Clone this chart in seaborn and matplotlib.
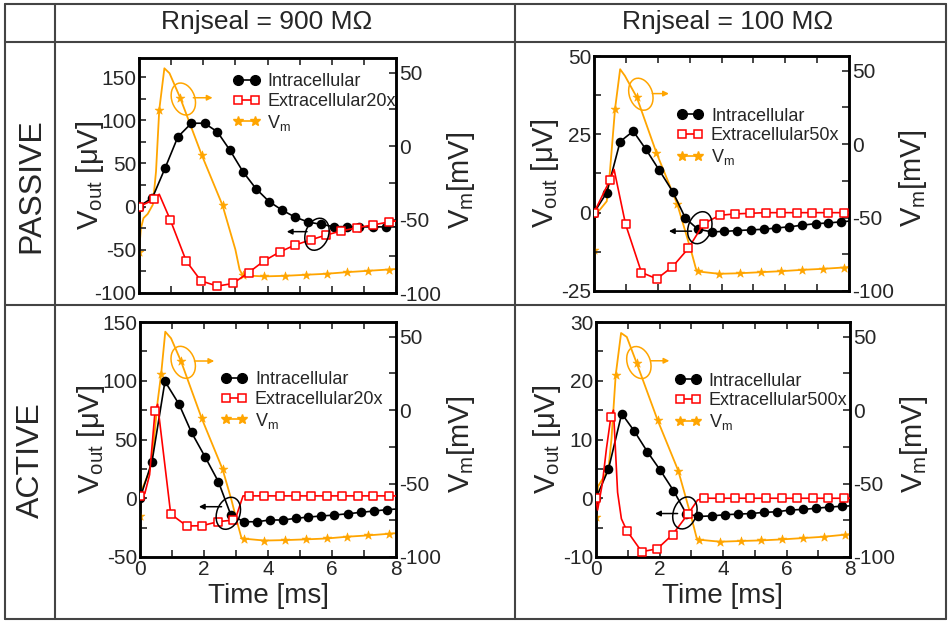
import pandas as pd
import matplotlib
matplotlib.use('Agg')
import matplotlib.pyplot as plt
import matplotlib.transforms as mtransforms
from matplotlib.patches import Ellipse
from matplotlib.lines import Line2D
from matplotlib.ticker import MultipleLocator
import seaborn as sns

# ---- data (time in ms) ----
# PASSIVE, Rnjseal = 900 MOhm
pas900_int_t = [0, 0.42, 0.81, 1.21, 1.63, 2.04, 2.44, 2.83, 3.24, 3.64, 4.05, 4.46, 4.85, 5.26, 5.66, 6.06, 6.47, 6.86, 7.27, 7.68]
pas900_int_v = [0, 10.4, 44.4, 80.7, 96.5, 96.5, 86.5, 65.3, 40.2, 20.8, 5.8, -4.2, -12, -17.8, -20.5, -23.2, -23.2, -23.5, -23.5, -23.5]
pas900_int_extra = [(8.0, -23.5)]
pas900_ext_t = [0, 0.48, 0.97, 1.47, 1.93, 2.44, 2.92, 3.41, 3.89, 4.38, 4.86, 5.34, 5.83, 6.30, 6.80, 7.29, 7.77]
pas900_ext_v = [0, 8.3, -15, -63, -86, -92, -89, -76.4, -62.9, -52.5, -44.4, -38.6, -32.8, -28.2, -24.3, -21.2, -17.8]
pas900_ext_extra = [(0.63, 14.3), (8.0, -16.6)]
pas900_vm_t = [0, 0.63, 1.28, 1.95, 2.60, 3.23, 3.90, 4.55, 5.19, 5.84, 6.48, 7.13, 7.77]
pas900_vm_v = [-72, 24.6, 33, -5.9, -40.3, -88, -88.7, -88.3, -87.6, -86.9, -85.8, -84.9, -84]
pas900_vm_extra = [(0.06, -56), (0.14, -49), (0.27, -46.2), (0.43, -39.9), (0.53, -17.2),
                   (0.79, 53), (0.95, 49.6), (3.0, -70.4), (3.13, -84), (8.0, -83.7)]

# PASSIVE, Rnjseal = 100 MOhm
pas100_int_t = [0, 0.40, 0.82, 1.23, 1.63, 2.05, 2.47, 2.87, 3.26, 3.69, 4.08, 4.50, 4.91, 5.32, 5.72, 6.13, 6.54, 6.95, 7.35, 7.76]
pas100_int_v = [0, 6.4, 22.7, 26.0, 20.2, 13.5, 6.7, -1.8, -5.3, -6.1, -6.0, -5.7, -5.5, -5.3, -4.9, -4.5, -4.0, -3.5, -3.3, -2.9]
pas100_int_extra = [(8.0, -2.7)]
pas100_ext_t = [0, 0.50, 0.99, 1.49, 1.97, 2.46, 2.96, 3.44, 3.94, 4.42, 4.90, 5.39, 5.87, 6.36, 6.85, 7.34, 7.83]
pas100_ext_v = [0, 10.4, -3.7, -19.1, -21.1, -17.3, -11.4, -3.5, -0.85, -0.4, -0.2, 0, 0, 0, 0, 0, 0]
pas100_ext_extra = [(0.63, 13.8), (8.0, 0)]
pas100_vm_t = [0, 0.66, 1.34, 1.96, 2.61, 3.26, 3.93, 4.58, 5.23, 5.88, 6.53, 7.19, 7.83]
pas100_vm_v = [-72, 24, 32, -6, -40.7, -86.7, -88.3, -87.9, -87.2, -86.5, -85.6, -84.9, -84.0]
pas100_vm_extra = [(0.03, -48), (0.19, -44.5), (0.40, -38.9), (0.50, -18.7), (0.82, 51),
                   (0.97, 46.5), (3.06, -73.7), (3.20, -85), (8.0, -83.7)]

# ACTIVE, Rnjseal = 900 MOhm
act900_int_t = [0, 0.375, 0.78, 1.22, 1.61, 2.03, 2.45, 2.84, 3.25, 3.65, 4.06, 4.46, 4.87, 5.26, 5.67, 6.07, 6.49, 6.90, 7.30, 7.71]
act900_int_v = [0, 31.1, 99.5, 80, 56, 35.4, 14.1, -14.3, -20, -20, -18.5, -18.5, -17.1, -16, -15.1, -14.3, -13.2, -12, -10.9, -9.7]
act900_int_extra = [(8.0, -9.2)]
act900_ext_t = [0, 0.47, 0.96, 1.46, 1.93, 2.43, 2.92, 3.41, 3.89, 4.38, 4.86, 5.34, 5.83, 6.32, 6.80, 7.29, 7.78]
act900_ext_v = [2, 74.3, -13.4, -23.6, -23.4, -20, -18.5, 2, 2, 2, 2, 2, 2, 2, 2, 2, 2]
act900_ext_extra = [(0.15, 4), (0.3, 20), (0.55, 80), (3.0, -16), (3.22, 2), (8.0, 2)]
act900_vm_t = [0, 0.66, 1.28, 1.93, 2.58, 3.24, 3.89, 4.53, 5.18, 5.83, 6.47, 7.12, 7.77]
act900_vm_v = [-72, 24.3, 33.4, -5.7, -40.2, -87.5, -88.8, -88.5, -88, -87.4, -86.2, -85.3, -84.2]
act900_vm_extra = [(0.08, -53), (0.29, -42), (0.40, -28.4), (0.55, 5.7), (0.79, 53.4),
                   (0.97, 48.9), (2.86, -61.3), (3.02, -75), (3.17, -87), (8.0, -83.8)]

# ACTIVE, Rnjseal = 100 MOhm
act100_int_t = [0, 0.39, 0.81, 1.21, 1.62, 2.02, 2.44, 2.84, 3.22, 3.66, 4.06, 4.48, 4.88, 5.30, 5.70, 6.12, 6.52, 6.94, 7.35, 7.76]
act100_int_v = [0, 4.9, 14.4, 11.4, 7.9, 4.8, 1.3, -2.6, -3.1, -3.0, -2.8, -2.7, -2.6, -2.4, -2.3, -2.0, -1.9, -1.7, -1.5, -1.35]
act100_int_extra = [(8.0, -1.3)]
act100_ext_t = [0, 0.47, 0.97, 1.44, 1.93, 2.41, 2.91, 3.41, 3.90, 4.38, 4.86, 5.35, 5.85, 6.33, 6.82, 7.32, 7.82]
act100_ext_v = [0, 13.9, -5.5, -9.1, -8.6, -6.2, -2.6, 0, 0, 0, 0, 0, 0, 0, 0, 0, 0]
act100_ext_extra = [(0.05, -2), (0.2, 2.5), (0.33, 8.5), (0.55, 15), (0.68, 1.0), (0.8, -3.5), (3.2, -0.3), (8.0, 0)]
act100_vm_t = [0, 0.62, 1.28, 1.94, 2.59, 3.24, 3.91, 4.56, 5.21, 5.87, 6.53, 7.18, 7.84]
act100_vm_v = [-73, 23.8, 32.1, -6.8, -41.2, -88.2, -89.6, -89.1, -88.7, -88, -87.1, -86.2, -84.8]
act100_vm_extra = [(0.06, -52), (0.23, -46), (0.39, -40.7), (0.49, -19), (0.79, 52.5),
                   (0.97, 49.8), (3.01, -73.5), (3.17, -87), (8.0, -84.5)]

col_titles = ['Rnjseal = 900 MΩ', 'Rnjseal = 100 MΩ']
row_titles = ['PASSIVE', 'ACTIVE']
ext_labels = ['Extracellular20x', 'Extracellular50x', 'Extracellular20x', 'Extracellular500x']
left_ylims = [(-100, 172), (-25, 50), (-50, 150), (-10, 30)]
left_major = [50, 25, 50, 10]

ORANGE = '#FFA500'
RED = '#FF0000'

sns.set_style('ticks')
plt.rcParams['font.family'] = ['Liberation Sans', 'DejaVu Sans']
plt.rcParams['axes.unicode_minus'] = False
plt.rcParams['mathtext.default'] = 'regular'

W, H = 950, 622
fig = plt.figure(figsize=(9.5, 6.22), dpi=100)

# axes boxes in pixels: left, top, right, bottom
boxes = [(139, 58, 396, 293), (594, 56, 849, 291), (140, 322, 396, 557), (596, 322, 850, 557)]
legend_pos = [(0.366, 0.935), (0.324, 0.78), (0.315, 0.79), (0.308, 0.785)]
# annotation: orange ellipse centre, arrow (start,end), black ellipse centre, arrow
notes = [
    dict(o=(1.38, 124.5), oa=((1.69, 126), (2.29, 126)), b=(5.54, -32), ba=((5.23, -29), (4.6, -29))),
    dict(o=(1.47, 37.8), oa=((1.83, 38), (2.35, 38)), b=(3.32, -4.8), ba=((3.06, -5.9), (2.35, -5.9))),
    dict(o=(1.35, 115.7), oa=((1.70, 116.8), (2.32, 116.8)), b=(2.76, -12.8), ba=((2.55, -7.2), (1.84, -7.2))),
    dict(o=(1.35, 23.1), oa=((1.73, 23.4), (2.31, 23.4)), b=(2.8, -2.5), ba=((2.57, -2.6), (1.86, -2.6))),
]

panels = [
    (pas900_int_t, pas900_int_v, pas900_int_extra, pas900_ext_t, pas900_ext_v, pas900_ext_extra, pas900_vm_t, pas900_vm_v, pas900_vm_extra),
    (pas100_int_t, pas100_int_v, pas100_int_extra, pas100_ext_t, pas100_ext_v, pas100_ext_extra, pas100_vm_t, pas100_vm_v, pas100_vm_extra),
    (act900_int_t, act900_int_v, act900_int_extra, act900_ext_t, act900_ext_v, act900_ext_extra, act900_vm_t, act900_vm_v, act900_vm_extra),
    (act100_int_t, act100_int_v, act100_int_extra, act100_ext_t, act100_ext_v, act100_ext_extra, act100_vm_t, act100_vm_v, act100_vm_extra),
]


def curve(t, v, extra):
    pts = sorted(list(zip(t, v)) + list(extra))
    return pd.DataFrame(pts, columns=['t', 'v'])


def ellipse(ax, centre, color, angle):
    tr = fig.dpi_scale_trans + mtransforms.ScaledTranslation(centre[0], centre[1], ax.transData)
    ax.add_patch(Ellipse((0, 0), 0.23, 0.33, angle=angle, transform=tr, fill=False,
                         ec=color, lw=1.1, zorder=6))


for i, (it, iv, ie, et, ev, ee, mt, mv, me) in enumerate(panels):
    l, t, r, b = boxes[i]
    ax = fig.add_axes([l / W, 1 - b / H, (r - l) / W, (b - t) / H])
    ax2 = ax.twinx()
    ax.set_zorder(ax2.get_zorder() + 1)
    ax.patch.set_visible(False)

    # Vm on right axis
    sns.lineplot(data=curve(mt, mv, me), x='t', y='v', ax=ax2, color=ORANGE, lw=1.3,
                 estimator=None, sort=False)
    sns.scatterplot(x=mt, y=mv, ax=ax2, marker='*', s=45, color=ORANGE, edgecolor=ORANGE,
                    linewidth=0.4, zorder=3)
    # intracellular / extracellular on left axis
    sns.lineplot(data=curve(it, iv, ie), x='t', y='v', ax=ax, color='black', lw=1.2,
                 estimator=None, sort=False, zorder=2)
    sns.scatterplot(x=it, y=iv, ax=ax, marker='o', s=48, color='black', edgecolor='black',
                    linewidth=0, zorder=3)
    sns.lineplot(data=curve(et, ev, ee), x='t', y='v', ax=ax, color=RED, lw=1.2,
                 estimator=None, sort=False, zorder=4)
    sns.scatterplot(x=et, y=ev, ax=ax, marker='s', s=30, color='white', edgecolor=RED,
                    linewidth=1.1, zorder=5)

    ax.set_xlim(0, 8)
    ax.set_ylim(*left_ylims[i])
    ax2.set_ylim(-100, 60)
    ax.xaxis.set_major_locator(MultipleLocator(2))
    ax.xaxis.set_minor_locator(MultipleLocator(1))
    ax.yaxis.set_major_locator(MultipleLocator(left_major[i]))
    ax.yaxis.set_minor_locator(MultipleLocator(left_major[i] / 2))
    ax2.yaxis.set_major_locator(MultipleLocator(50))
    ax2.yaxis.set_minor_locator(MultipleLocator(25))
    ax.tick_params(axis='both', which='both', direction='in', length=5, width=1.2,
                   labelsize=15, pad=2, top=True, right=False)
    ax2.tick_params(axis='y', which='both', direction='in', length=5, width=1.2,
                    labelsize=15, pad=2)
    for a in (ax, ax2):
        for s in a.spines.values():
            s.set_linewidth(1.8)
            s.set_color('black')

    ax.set_ylabel('V$_{out}$ [μV]', fontsize=21)
    ax.yaxis.set_label_coords(-0.128, 0.5)
    ax2.set_ylabel('V$_m$[mV]', fontsize=21)
    ax2.yaxis.set_label_coords(1.19, 0.48)
    if i >= 2:
        ax.set_xlabel('Time [ms]', fontsize=20)
        ax.xaxis.set_label_coords(0.5, -0.11)
    else:
        ax.set_xlabel('')
        ax.tick_params(axis='x', labelbottom=False)

    handles = [Line2D([], [], color='black', marker='o', ms=7, lw=1.2),
               Line2D([], [], color=RED, marker='s', ms=5.5, mfc='white', mec=RED, mew=1.1, lw=1.2),
               Line2D([], [], color=ORANGE, marker='*', ms=7, lw=1.2)]
    ax.legend(handles, ['Intracellular', ext_labels[i], 'V$_m$'], loc='upper left',
              bbox_to_anchor=legend_pos[i], frameon=False, numpoints=2, handlelength=1.5,
              handletextpad=0.4, labelspacing=0.15, borderpad=0, borderaxespad=0, fontsize=13)

    n = notes[i]
    ellipse(ax, n['o'], ORANGE, 20)
    ellipse(ax, n['b'], 'black', -20)
    ax.annotate('', xy=n['oa'][1], xytext=n['oa'][0],
                arrowprops=dict(arrowstyle='-|>', color=ORANGE, lw=1.1, mutation_scale=8,
                                shrinkA=0, shrinkB=0))
    ax.annotate('', xy=n['ba'][1], xytext=n['ba'][0],
                arrowprops=dict(arrowstyle='-|>', color='black', lw=1.1, mutation_scale=8,
                                shrinkA=0, shrinkB=0))

# table grid
grid_kw = dict(color='#444444', lw=1.5)
for y in (4, 42, 305, 619):
    fig.add_artist(Line2D([5 / W, 946 / W], [1 - y / H, 1 - y / H], transform=fig.transFigure, **grid_kw))
for x in (5, 55, 515, 946):
    fig.add_artist(Line2D([x / W, x / W], [1 - 4 / H, 1 - 619 / H], transform=fig.transFigure, **grid_kw))

fig.text(267 / W, 1 - 22 / H, col_titles[0], ha='center', va='center', fontsize=19)
fig.text(728 / W, 1 - 22 / H, col_titles[1], ha='center', va='center', fontsize=19)
fig.text(31 / W, 1 - 186 / H, row_titles[0], ha='center', va='center', rotation=90, fontsize=23)
fig.text(31 / W, 1 - 460 / H, row_titles[1], ha='center', va='center', rotation=90, fontsize=23)

fig.savefig('out.png', dpi=100)
